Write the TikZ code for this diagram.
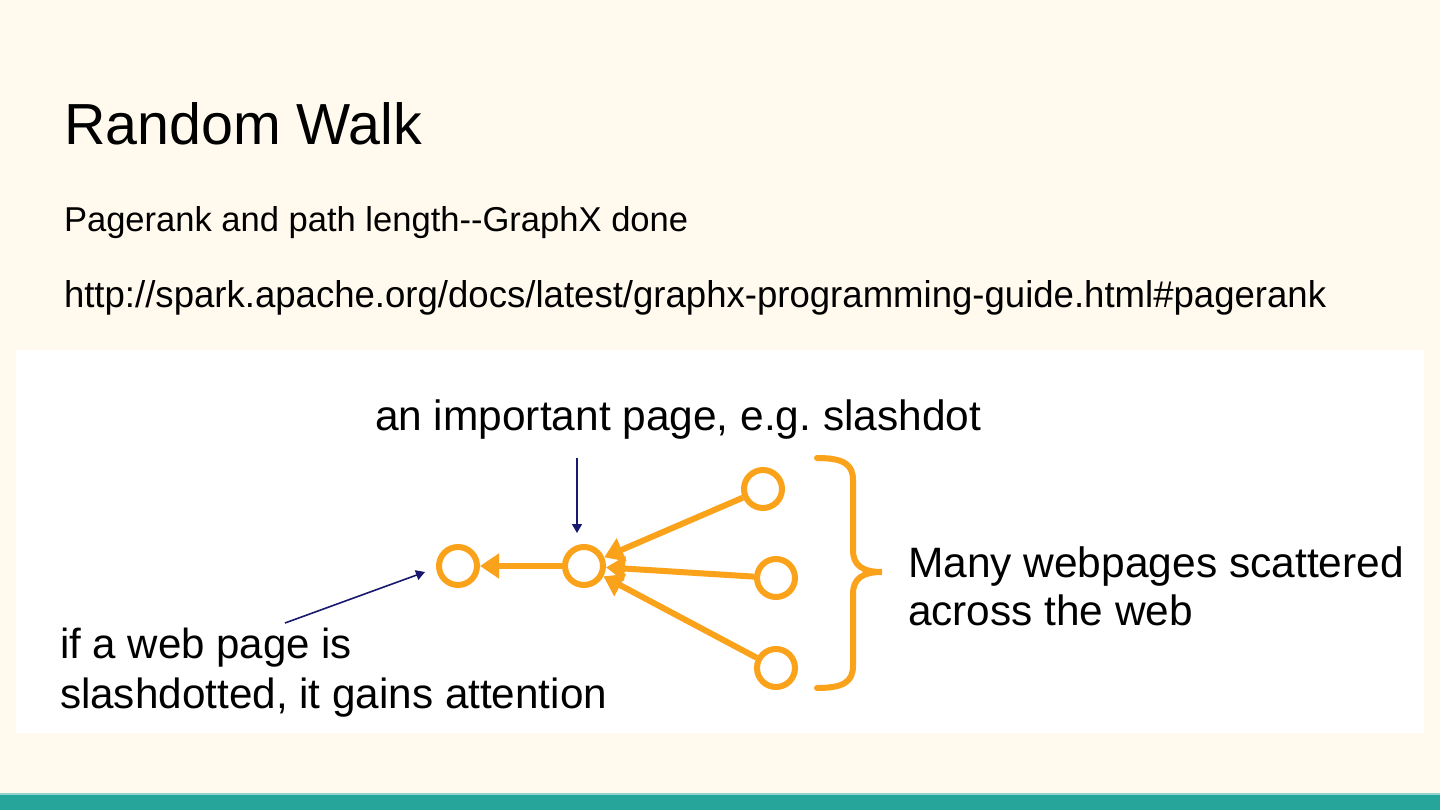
\documentclass[tikz,border=0pt]{standalone}
\usepackage{fontspec}
\setmainfont{Liberation Sans}
\usetikzlibrary{arrows.meta}
\frenchspacing
\definecolor{cream}{RGB}{255,249,238}
\definecolor{teal}{RGB}{38,166,154}
\definecolor{orng}{RGB}{250,163,26}
\definecolor{navy}{RGB}{24,24,110}
\tikzset{
  txt/.style={anchor=base west, inner sep=0pt, outer sep=0pt, text=black},
  page/.style={circle, draw=orng, line width=6pt, minimum size=38pt, inner sep=0pt, fill=white},
  oarrow/.style={draw=orng, line width=6pt, -{Triangle[length=19pt,width=24pt]}},
  narrow/.style={draw=navy, line width=1.6pt, -{Triangle[length=9pt,width=10pt]}},
}
\begin{document}
\begin{tikzpicture}[x=1pt,y=-1pt]
\useasboundingbox (0,0) rectangle (1440,810);
\fill[cream] (0,0) rectangle (1440,810);
\fill[white] (16,350) rectangle (1424,733);
\fill[teal] (0,794) rectangle (1440,810);
\fill[teal!50!white] (0,793) rectangle (1440,794.5);

\node[txt] (title) at (64,145) {\resizebox{358pt}{42pt}{Random Walk}};
\node[txt] (sub) at (64,232) {\resizebox{624pt}{25pt}{Pagerank and path length-{}-GraphX done}};
\node[txt] (url) at (64,308) {\resizebox{1262pt}{27pt}{http://spark.apache.org/docs/latest/graphx-programming-guide.html\#pagerank}};

\node[txt] (imp) at (375,430) {\resizebox{606pt}{!}{an important page, e.g. slashdot}};
\node[txt] (slash1) at (60,658) {\resizebox{292pt}{!}{if a web page is}};
\node[txt] (slash2) at (60,708) {\resizebox{547pt}{!}{slashdotted, it gains attention}};
\node[txt] (many1) at (908,577) {\resizebox{496pt}{!}{Many webpages scattered}};
\node[txt] (many2) at (908,625) {\resizebox{285pt}{!}{across the web}};

\node[page] (a) at (458,566) {};
\node[page] (c) at (584,566) {};
\node[page] (r1) at (763,489) {};
\node[page] (r2) at (776,578) {};
\node[page] (r3) at (776,668) {};

\draw[oarrow] (c) -- (a);
\draw[oarrow] (r1) -- (c);
\draw[oarrow] (r2) -- (c);
\draw[oarrow] (r3) -- (c);

\coordinate (impS) at (577,458);
\coordinate (impE) at (577,533);
\draw[narrow] (impS) -- (impE);
\coordinate (slS) at (285,623);
\coordinate (slE) at (425,572);
\draw[narrow] (slS) -- (slE);

\draw[orng, line width=6pt, line cap=round]
  (817,458) .. controls (843,458) and (853,464) .. (853,480)
  -- (853,550) .. controls (853,565) and (862,572) .. (882,572)
  .. controls (862,572) and (853,579) .. (853,594)
  -- (853,666) .. controls (853,682) and (843,688) .. (817,688);
\end{tikzpicture}
\end{document}
